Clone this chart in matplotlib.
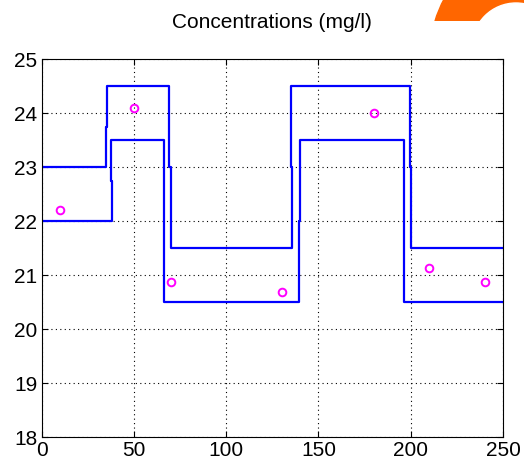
import matplotlib.pyplot as plt
from matplotlib.patches import Circle

plt.rcParams['font.family'] = ['Liberation Sans', 'DejaVu Sans']

# upper and lower bounds of the control band (time, concentration)
upper_t = [0, 34.8, 34.8, 35.4, 35.4, 69.3, 69.3, 69.9, 69.9, 135.6, 135.6, 135.2, 135.2, 199.8, 199.8, 200.4, 200.4, 250]
upper_c = [23, 23, 23.75, 23.75, 24.5, 24.5, 23, 23, 21.5, 21.5, 23, 23, 24.5, 24.5, 23, 23, 21.5, 21.5]
lower_t = [0, 38.4, 38.4, 37.9, 37.9, 66.3, 66.3, 139.4, 139.4, 139.8, 139.8, 196.6, 196.6, 250]
lower_c = [22, 22, 22.75, 22.75, 23.5, 23.5, 20.5, 20.5, 22, 22, 23.5, 23.5, 20.5, 20.5]

# measured samples
sample_t = [10, 50, 70, 130, 180, 210, 240]
sample_c = [22.2, 24.1, 20.88, 20.68, 24.0, 21.13, 20.88]

fig = plt.figure(figsize=(5.24, 4.65), dpi=100)
ax = fig.add_axes([0.0792, 0.0602, 0.8808, 0.8128])

ax.plot(upper_t, upper_c, color='#0000ff', lw=1.6)
ax.plot(lower_t, lower_c, color='#0000ff', lw=1.6)
ax.plot(sample_t, sample_c, 'o', mfc='none', mec='#ff00ff', ms=5.5, mew=1.4)

ax.set_xlim(0, 250)
ax.set_ylim(18, 25)
ax.set_xticks(range(0, 251, 50))
ax.set_yticks(range(18, 26))
ax.grid(True, color='black', linestyle=(0, (1, 3)), linewidth=0.8)
ax.tick_params(direction='in', top=True, right=True, labelsize=15, length=4, pad=3)
for s in ax.spines.values():
    s.set_linewidth(0.8)
ax.set_title('Concentrations (mg/l)', fontsize=15, pad=22)

# orange logo fragment in the corner
logo = fig.add_axes([420 / 524, 1 - 21 / 465, 104 / 524, 21 / 465])
logo.set_xlim(420, 524)
logo.set_ylim(21, 0)
logo.axis('off')
logo.add_patch(Circle((560, 60), 131, color='#ff6600'))
logo.add_patch(Circle((516, 47), 44, color='white'))

fig.savefig('out.png', dpi=100)
